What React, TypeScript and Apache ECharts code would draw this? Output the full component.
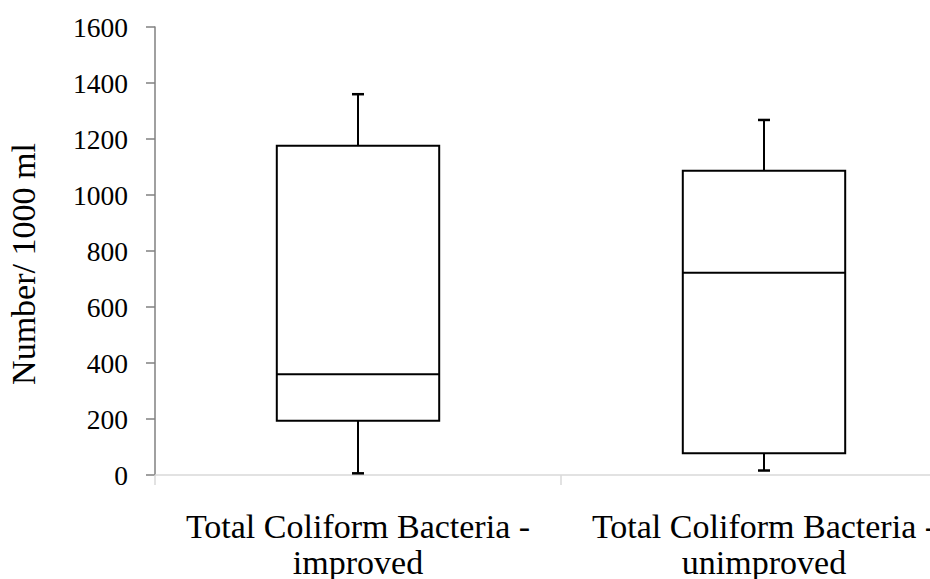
import React, { useEffect, useRef } from "react";
import * as echarts from "echarts";

const categories = [
  "Total Coliform Bacteria -\nimproved",
  "Total Coliform Bacteria -\nunimproved",
];
const minValues = [6, 16];
const q1Values = [194, 78];
const medianValues = [360, 722];
const q3Values = [1176, 1087];
const maxValues = [1360, 1268];
const yTicks = { min: 0, max: 1600, interval: 200 };

const FONT = "'Liberation Serif', 'Times New Roman', serif";

export default function App() {
  const ref = useRef<HTMLDivElement>(null);

  useEffect(() => {
    if (!ref.current) return;
    const chart = echarts.init(ref.current, null, { renderer: "svg" });
    const data = categories.map((_, i) => [
      i,
      minValues[i],
      q1Values[i],
      medianValues[i],
      q3Values[i],
      maxValues[i],
    ]);
    const stroke = "#000";
    chart.setOption({
      animation: false,
      backgroundColor: "#fff",
      grid: {
        left: 155,
        top: 27,
        height: 448,
        width: 812,
        containLabel: false,
        outerBoundsMode: "none",
      },
      xAxis: {
        type: "category",
        data: categories,
        boundaryGap: true,
        axisLine: { show: true, lineStyle: { color: "#d9d9d9", width: 1.5 } },
        axisTick: { show: true, length: 10, lineStyle: { color: "#d9d9d9", width: 1.5 } },
        axisLabel: {
          interval: 0,
          color: "#000",
          fontFamily: FONT,
          fontSize: 34,
          lineHeight: 36,
          margin: 33,
        },
        splitLine: { show: false },
      },
      yAxis: {
        type: "value",
        min: yTicks.min,
        max: yTicks.max,
        interval: yTicks.interval,
        name: "Number/ 1000 ml",
        nameLocation: "middle",
        nameGap: 115,
        nameTextStyle: { color: "#000", fontFamily: FONT, fontSize: 34, padding: [0, 26, 0, 0] },
        axisLine: { show: true, lineStyle: { color: "#808080", width: 1.5 } },
        axisTick: { show: true, length: 9, lineStyle: { color: "#808080", width: 1.5 } },
        axisLabel: {
          color: "#000",
          fontFamily: FONT,
          fontSize: 27.5,
          margin: 27,
          formatter: (v: number) => String(v),
        },
        splitLine: { show: false },
      },
      series: [
        {
          type: "custom",
          data,
          clip: false,
          encode: { x: 0, y: [1, 2, 3, 4, 5] },
          renderItem: (params: any, api: any) => {
            const idx = api.value(0);
            const pMin = api.coord([idx, api.value(1)]);
            const pQ1 = api.coord([idx, api.value(2)]);
            const pMed = api.coord([idx, api.value(3)]);
            const pQ3 = api.coord([idx, api.value(4)]);
            const pMax = api.coord([idx, api.value(5)]);
            const x = pMin[0];
            const halfW = api.size([1, 0])[0] * 0.2;
            const cap = 6;
            const ls = { stroke, lineWidth: 2 };
            return {
              type: "group",
              children: [
                { type: "line", shape: { x1: x, y1: pQ3[1], x2: x, y2: pMax[1] }, style: ls },
                { type: "line", shape: { x1: x - cap, y1: pMax[1], x2: x + cap, y2: pMax[1] }, style: { stroke, lineWidth: 2.5 } },
                { type: "line", shape: { x1: x, y1: pQ1[1], x2: x, y2: pMin[1] }, style: ls },
                { type: "line", shape: { x1: x - cap, y1: pMin[1], x2: x + cap, y2: pMin[1] }, style: { stroke, lineWidth: 2.5 } },
                {
                  type: "rect",
                  shape: { x: x - halfW, y: pQ3[1], width: halfW * 2, height: pQ1[1] - pQ3[1] },
                  style: { fill: "#fff", stroke, lineWidth: 2 },
                },
                { type: "line", shape: { x1: x - halfW, y1: pMed[1], x2: x + halfW, y2: pMed[1] }, style: ls },
              ],
            };
          },
        },
      ],
    });
    return () => chart.dispose();
  }, []);

  return (
    <div
      ref={ref}
      style={{ position: "fixed", left: 0, top: 0, width: 930, height: 579, background: "#fff" }}
    />
  );
}
